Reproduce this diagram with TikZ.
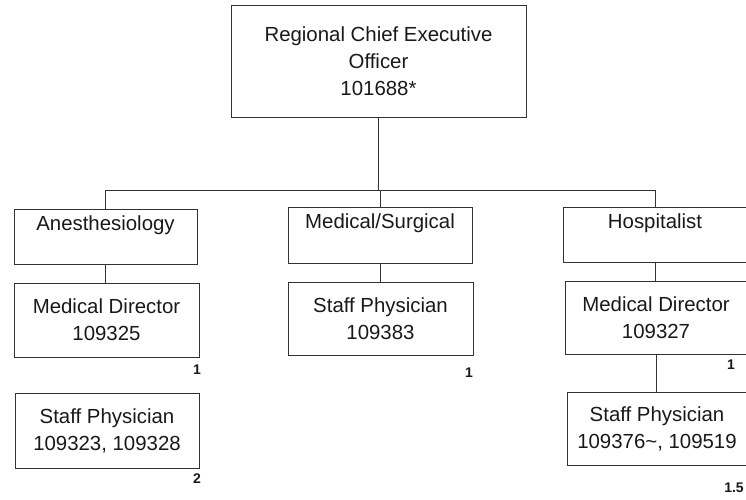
\documentclass[tikz,border=0pt]{standalone}
\usepackage{fontspec}
\setmainfont{Liberation Sans}
\usepackage{tikz}

\tikzset{
  box/.style={draw=black!80, line width=0.9pt, align=center, inner sep=0pt,
    font=\fontsize{20.4}{27}\selectfont, text=black!90},
  num/.style={font=\fontsize{14}{16}\selectfont\bfseries, text=black!90, inner sep=0pt},
  link/.style={draw=black!80, line width=0.9pt}
}

\begin{document}
\begin{tikzpicture}[x=1pt, y=-1pt]
                \useasboundingbox (0,0) rectangle (746,499);
                \clip (0,0) rectangle (746,499);
                % top
                \node[box, minimum width=295, minimum height=112] (ceo) at (378.5,61) {Regional Chief Executive\\Officer\\101688*};
                % departments
                \node[box, minimum width=183, minimum height=55] (anes) at (105.5,236.5) {Anesthesiology\\\mbox{}};
                \node[box, minimum width=184, minimum height=56] (medsurg) at (380,235) {Medical/Surgical\\\mbox{}};
                \node[box, minimum width=184, minimum height=55] (hosp) at (655,234.5) {Hospitalist\\\mbox{}};
                % positions
                \node[box, minimum width=185, minimum height=74] (anesmd) at (106.5,320) {Medical Director\\109325};
                \node[box, minimum width=184, minimum height=75] (anessp) at (107,430.5) {Staff Physician\\109323, 109328};
                \node[box, minimum width=185, minimum height=73] (medsp) at (380.5,318.5) {Staff Physician\\109383};
                \node[box, minimum width=182, minimum height=73] (hospmd) at (656,317.5) {Medical Director\\109327};
                \node[box, minimum width=180, minimum height=73] (hospsp) at (657,428.5) {Staff Physician\\109376\textasciitilde, 109519};
                % counts
                \node[num] (n1) at (197,370) {1};
                \node[num] (n2) at (197,479) {2};
                \node[num] (n3) at (469,373) {1};
                \node[num] (n4) at (731,365) {1};
                \node[num] (n5) at (734,488) {1.5};
                % lines
                \coordinate (busL) at (105,190);
                \coordinate (busR) at (655,190);
                \draw[link] (busL) -- (busR);
                \draw[link] (ceo.south) -- (ceo.south |- busL);
                \draw[link] (anes.north -| busL) -- (busL);
                \draw[link] (medsurg.north) -- (medsurg.north |- busL);
                \draw[link] (hosp.north -| busR) -- (busR);
                \draw[link] (anes.south) -- (anesmd.north -| anes.south);
                \draw[link] (medsurg.south) -- (medsp.north -| medsurg.south);
                \draw[link] (hosp.south) -- (hospmd.north -| hosp.south);
                \draw[link] (hospmd.south) -- (hospsp.north -| hospmd.south);
            \end{tikzpicture}
\end{document}
